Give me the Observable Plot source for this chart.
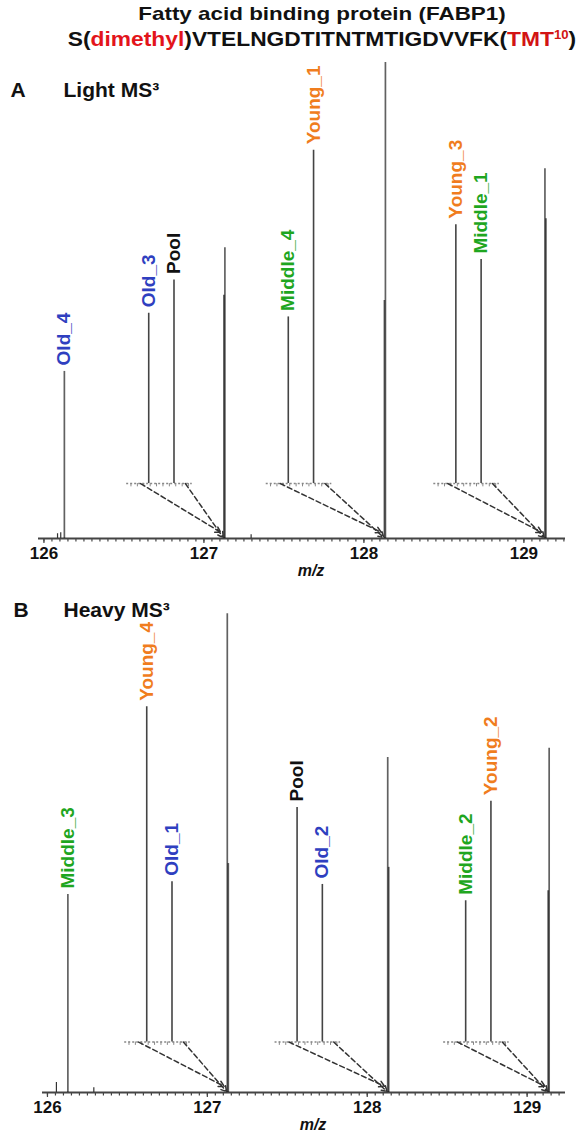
<!DOCTYPE html>
<html><head><meta charset="utf-8">
<script src="https://cdn.jsdelivr.net/npm/d3@7"></script>
<script src="https://cdn.jsdelivr.net/npm/@observablehq/plot@0.6"></script>
<style>
body{margin:0;width:581px;height:1139px;position:relative;overflow:hidden;background:#fff;font-family:"Liberation Sans",Arial,sans-serif}
.t{position:absolute;left:322px;white-space:nowrap;font-weight:bold;color:#111;line-height:1.15}
#t1{top:3px;font-size:19px;transform:translateX(-50%) scaleX(1.18)}
#t2{top:27px;font-size:21px;transform:translateX(-50%) scaleX(1.085)}
.red{color:#e3141b}
.dred{color:#d21414}
sup{font-size:58%;vertical-align:0.55em;line-height:0}
#pA{position:absolute;left:0;top:56px}
#pB{position:absolute;left:0;top:586px}
</style></head>
<body>
<div class="t" id="t1">Fatty acid binding protein (FABP1)</div>
<div class="t" id="t2">S(<span class="red">dimethyl</span>)VTELNGDTITNTMTIGDVVFK(<span class="dred">TMT<sup>10</sup></span>)</div>
<div id="pA"></div>
<div id="pB"></div>
<script>
// TMT reporter channels and m/z
const channels = ["126", "127N", "127C", "128N", "128C", "129N", "129C"];
const mzValues = [126.127726, 127.124761, 127.131081, 128.128116, 128.134436, 129.131471, 129.137790];
// Light MS3
const lightLabels = ["Old_4", "Old_3", "Pool", "Middle_4", "Young_1", "Young_3", "Middle_1"];
const lightIntensity = [35.1, 51.1, 61.1, 50.0, 100, 77.7, 67.2];
const lightNoiseMz = [126.085, 126.105, 127.295];
const lightNoiseInt = [1.0, 1.2, 0.8];
// Heavy MS3
const heavyLabels = ["Middle_3", "Young_4", "Old_1", "Pool", "Old_2", "Middle_2", "Young_2"];
const heavyIntensity = [41.6, 100.6, 48.1, 70.4, 47.3, 42.4, 72.3];
const heavyNoiseMz = [126.056, 126.29];
const heavyNoiseInt = [2.1, 1.0];
// zoom insets (pairs 127, 128, 129)
const insetPairs = [["127N", "127C"], ["128N", "128C"], ["129N", "129C"]];
const lightInsetShift = [-0.394, -0.525, -0.481];
const heavyInsetShift = [-0.428, -0.491, -0.44];
const insetBase = {light: 11.55, heavy: 10.6};
const insetZoom = 25, insetScale = 0.7;
const xTicks = [126, 127, 128, 129];
const groupColors = {Old: "#2f3fc0", Young: "#f07d1e", Middle: "#1fa61f", Pool: "#111111"};

function panel({labels, intensity, noiseMz, noiseInt, shifts, base, domain, marginLeft, marginTop, height, marginBottom, letter, title}) {
  const peaks = channels.map((c, i) => ({ch: c, mz: mzValues[i], intensity: intensity[i], label: labels[i]}));
  const byCh = Object.fromEntries(peaks.map(p => [p.ch, p]));
  const noise = noiseMz.map((m, i) => ({mz: m, intensity: noiseInt[i]}));
  const insets = insetPairs.map((pair, k) => {
    const a = byCh[pair[0]], b = byCh[pair[1]];
    const mean = (a.mz + b.mz) / 2;
    return {a, b, mean, cx: mean + shifts[k]};
  });
  const insetPeaks = insets.flatMap(g => [g.a, g.b].map(p => ({
    ...p, ix: g.cx + (p.mz - g.mean) * insetZoom, iy: base + insetScale * p.intensity
  })));
  const labelPts = [
    {x: peaks[0].mz, y: peaks[0].intensity, label: peaks[0].label},
    ...insetPeaks.map(p => ({x: p.ix, y: p.iy, label: p.label}))
  ];
  const insetTicks = insets.flatMap(g => d3.range(-5, 5).map(j => ({x: g.cx + j * 0.04 + 0.01})));
  const connectors = insets.flatMap(g => [
    {x1: g.cx - 0.13, y1: base, x2: g.a.mz - 0.02, y2: 1.3},
    {x1: g.cx + 0.15, y1: base, x2: g.a.mz - 0.004, y2: 0.2}
  ]);
  const minor = d3.range(2520, 2586).map(i => i / 20).filter(v => v >= domain[0] && v <= domain[1]);
  const col = l => groupColors[l.split("_")[0]];
  return Plot.plot({
    width: 581, height, marginLeft, marginRight: 16, marginTop, marginBottom,
    style: {fontFamily: '"Liberation Sans", Arial, sans-serif', background: "transparent", overflow: "visible"},
    x: {domain, label: null},
    y: {domain: [0, 100], axis: null},
    marks: [
      Plot.axisX({ticks: minor, tickSize: 3.5, tickFormat: () => "", stroke: "#444", strokeWidth: 1.2}),
      Plot.axisX({ticks: xTicks, tickSize: 5, tickPadding: 3, tickFormat: d => d, fontSize: 17, fontWeight: "bold", fill: "#111", stroke: "#444", strokeWidth: 1.2}),
      Plot.ruleY([0], {stroke: "#444", strokeWidth: 2}),
      Plot.ruleX(noise, {x: "mz", y1: 0, y2: "intensity", stroke: "#333", strokeWidth: 1.2}),
      Plot.ruleX(peaks, {x: "mz", y1: 0, y2: "intensity", stroke: "#000", strokeOpacity: 0.62, strokeWidth: 1.7}),
      Plot.link(insets, {x1: d => d.cx - 0.22, x2: d => d.cx + 0.19, y1: base, y2: base, stroke: "#888", strokeWidth: 1.5, strokeDasharray: "2,2"}),
      Plot.ruleX(insetTicks, {x: "x", y1: base - 0.7, y2: base, stroke: "#888", strokeWidth: 1}),
      Plot.ruleX(insetPeaks, {x: "ix", y1: base, y2: "iy", stroke: "#444", strokeWidth: 1.6}),
      Plot.arrow(connectors, {x1: "x1", y1: "y1", x2: "x2", y2: "y2", stroke: "#333", strokeWidth: 1.5, strokeDasharray: "5,3", headLength: 6}),
      Plot.text(labelPts, {x: "x", y: "y", text: "label", rotate: -90, textAnchor: "start", lineAnchor: "middle", dy: -6, fontSize: 19, fontWeight: "bold", fill: d => col(d.label)}),
      Plot.text([letter], {frameAnchor: "top-left", dx: marginLeft === 38 ? -28 : -29, dy: title.dy, fontSize: 21, fontWeight: "bold", textAnchor: "start", lineAnchor: "middle", fill: "#111"}),
      Plot.text([title.text], {frameAnchor: "top-left", dx: 63 - marginLeft, dy: title.dy, fontSize: 21, fontWeight: "bold", textAnchor: "start", lineAnchor: "middle", fill: "#111"}),
      Plot.text(["m/z"], {frameAnchor: "bottom", dx: 9, dy: 32, fontSize: 16, fontWeight: "bold", fontStyle: "italic", lineAnchor: "middle", fill: "#111"})
    ]
  });
}

document.getElementById("pA").append(panel({
  labels: lightLabels, intensity: lightIntensity, noiseMz: lightNoiseMz, noiseInt: lightNoiseInt,
  shifts: lightInsetShift, base: insetBase.light, domain: [125.966, 129.26],
  marginLeft: 38, marginTop: 6, height: 530, marginBottom: 48,
  letter: "A", title: {text: "Light MS³", dy: 28}
}));
document.getElementById("pB").append(panel({
  labels: heavyLabels, intensity: heavyIntensity, noiseMz: heavyNoiseMz, noiseInt: heavyNoiseInt,
  shifts: heavyInsetShift, base: insetBase.heavy, domain: [125.969, 129.24],
  marginLeft: 42, marginTop: 30, height: 553, marginBottom: 47,
  letter: "B", title: {text: "Heavy MS³", dy: -6}
}));
</script>
</body></html>
